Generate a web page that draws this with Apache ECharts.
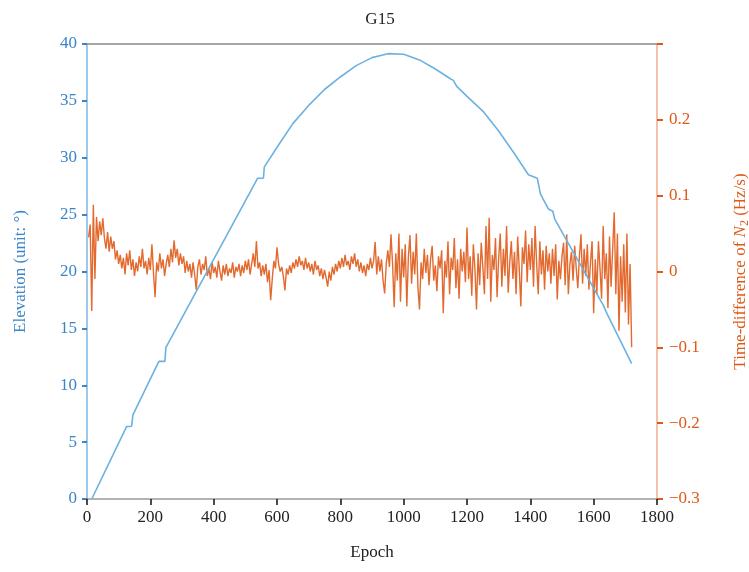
<!DOCTYPE html>
<html>
<head>
<meta charset="utf-8">
<script src="https://cdn.jsdelivr.net/npm/echarts@6/dist/echarts.min.js"></script>
<style>
  html, body { margin: 0; padding: 0; background: #fff; overflow: hidden; }
  #chart { width: 749px; height: 572px; }
</style>
</head>
<body>
<div id="chart"></div>
<script>
// elevation curve: [epoch, degrees]
const elevEpochs = [15, 125, 141, 145, 227, 246, 249, 539, 557, 560, 609, 650, 700, 750, 800, 850, 900, 950, 1000, 1050, 1100, 1150, 1157, 1167, 1200, 1250, 1300, 1350, 1394, 1422, 1432, 1457, 1471, 1477, 1631, 1642, 1720];
const elevValues = [0, 6.36, 6.4, 7.4, 12.1, 12.1, 13.3, 28.2, 28.2, 29.2, 31.3, 33.0, 34.6, 36.0, 37.1, 38.1, 38.8, 39.15, 39.1, 38.6, 37.8, 36.9, 36.8, 36.3, 35.4, 34.1, 32.35, 30.35, 28.5, 28.2, 26.8, 25.5, 25.3, 24.6, 17.0, 16.3, 11.9];

// time-difference of N2 (Hz/s), sampled every 5 epochs from epoch 5
const noiseStart = 5;
const noiseStep = 5;
const noiseValues = [
  0.045, 0.062, -0.052, 0.088, -0.010, 0.072, 0.040, 0.066, 0.048, 0.070,
  0.044, 0.030, 0.052, 0.026, 0.046, 0.030, 0.040, 0.016, 0.028, 0.010,
  0.022, 0.004, 0.018, -0.004, 0.024, 0.008, 0.028, 0.002, 0.016, -0.006,
  0.012, 0.000, 0.020, 0.006, 0.030, 0.004, 0.014, -0.004, 0.018, 0.002,
  0.036, -0.002, -0.034, 0.012, 0.000, 0.024, 0.004, 0.016, -0.006, 0.010,
  0.022, 0.006, 0.030, 0.012, 0.041, 0.018, 0.030, 0.008, 0.024, 0.010,
  0.020, -0.002, 0.014, 0.000, 0.010, -0.008, 0.012, -0.004, -0.024, 0.006,
  0.016, -0.004, 0.010, 0.002, 0.020, -0.006, 0.004, -0.010, 0.012, -0.002,
  0.006, -0.008, 0.014, 0.000, -0.012, 0.008, -0.004, 0.010, -0.006, 0.004,
  -0.002, 0.012, -0.008, 0.006, 0.000, 0.010, -0.006, 0.008, -0.002, 0.014,
  0.002, 0.016, -0.004, 0.010, 0.024, 0.006, 0.040, 0.004, 0.012, -0.006,
  0.008, -0.004, 0.010, -0.014, 0.002, -0.038, -0.010, 0.014, 0.004, 0.032,
  0.010, 0.000, 0.006, -0.006, -0.025, 0.004, -0.004, 0.008, -0.002, 0.012,
  0.004, 0.016, 0.006, 0.020, 0.008, 0.014, 0.002, 0.018, 0.004, 0.012,
  0.000, 0.010, -0.004, 0.014, 0.002, 0.008, -0.006, 0.004, -0.010, 0.002,
  -0.008, -0.020, 0.000, -0.012, 0.006, -0.004, 0.010, 0.000, 0.014, 0.004,
  0.018, 0.006, 0.022, 0.008, 0.014, 0.002, 0.020, 0.010, 0.024, 0.006,
  0.016, 0.000, 0.012, -0.002, 0.008, -0.006, 0.010, 0.002, 0.018, 0.004,
  0.014, 0.039, -0.004, 0.020, 0.000, 0.016, -0.012, -0.029, 0.010, 0.028,
  0.006, 0.049, 0.010, -0.047, 0.024, -0.012, 0.050, -0.040, 0.030, -0.008,
  0.036, -0.046, 0.020, 0.048, -0.016, 0.026, -0.004, 0.050, -0.020, -0.050,
  0.012, -0.010, 0.030, -0.002, 0.022, -0.018, 0.016, 0.034, -0.012, 0.008,
  -0.026, 0.020, 0.004, 0.028, -0.055, 0.014, -0.008, 0.040, -0.030, 0.018,
  0.002, 0.044, -0.022, 0.016, -0.036, 0.030, 0.000, 0.026, -0.014, 0.058,
  -0.010, 0.020, -0.032, 0.036, 0.004, -0.050, 0.024, -0.018, 0.038, 0.006,
  -0.030, 0.060, -0.010, 0.071, -0.040, 0.022, 0.002, 0.044, -0.034, 0.018,
  0.050, -0.020, 0.030, -0.006, 0.060, -0.028, 0.012, 0.040, -0.010, 0.026,
  -0.030, 0.046, 0.004, -0.046, 0.032, 0.010, 0.054, -0.014, 0.036, 0.002,
  0.044, -0.020, 0.060, 0.010, -0.030, 0.040, -0.004, 0.028, -0.024, 0.034,
  0.000, 0.024, -0.016, 0.030, -0.006, 0.036, -0.037, 0.014, -0.010, 0.020,
  0.038, -0.018, 0.049, -0.030, 0.010, 0.026, -0.012, 0.034, 0.004, -0.022,
  0.020, 0.049, -0.016, 0.030, -0.006, 0.036, -0.024, 0.012, 0.040, -0.055,
  0.016, -0.030, 0.040, 0.004, -0.036, 0.060, -0.010, 0.024, -0.048, 0.046,
  -0.020, 0.030, 0.078, -0.030, 0.050, -0.078, 0.020, -0.040, 0.036, -0.054,
  0.050, -0.070, 0.010, -0.100
];

const xTicks = { min: 0, max: 1800, interval: 200 };
const leftTicks = { min: 0, max: 40, interval: 5 };
const rightTicks = { min: -0.3, max: 0.3, interval: 0.1 };

const elevData = elevEpochs.map((e, i) => [e, elevValues[i]]);
const noiseData = noiseValues.map((v, i) => [noiseStart + i * noiseStep, v]);

const FONT = '"Liberation Serif", "DejaVu Serif", serif';
const BLUE = '#3b84c8';
const ORANGE = '#df5a18';

let myChart = echarts.init(document.getElementById('chart'));
myChart.setOption({
  animation: false,
  textStyle: { fontFamily: FONT },
  title: {
    text: 'G15',
    left: 375,
    textAlign: 'center',
    top: 6,
    textStyle: { fontFamily: FONT, fontSize: 17, fontWeight: 'normal', color: '#222' }
  },
  grid: { left: 87, right: 92, top: 44, bottom: 73, containLabel: false, outerBoundsMode: 'none' },
  xAxis: [
    {
      type: 'value',
      min: xTicks.min, max: xTicks.max, interval: xTicks.interval,
      name: 'Epoch',
      nameLocation: 'middle',
      nameGap: 45,
      nameTextStyle: { fontFamily: FONT, fontSize: 17, color: '#222' },
      axisLine: { onZero: false, lineStyle: { color: '#9a9a9a', width: 1.5 } },
      axisTick: { show: true, length: 6, lineStyle: { color: '#111', width: 1.5 } },
      axisLabel: { fontFamily: FONT, fontSize: 17, color: '#222', margin: 10, formatter: v => String(v) },
      splitLine: { show: false }
    },
    {
      type: 'value',
      position: 'top',
      min: xTicks.min, max: xTicks.max,
      axisLine: { show: true, onZero: false, lineStyle: { color: '#8a8a8a', width: 1.5 } },
      axisTick: { show: false },
      axisLabel: { show: false },
      splitLine: { show: false }
    }
  ],
  yAxis: [
    {
      type: 'value',
      min: leftTicks.min, max: leftTicks.max, interval: leftTicks.interval,
      position: 'left',
      name: 'Elevation (unit: °)',
      nameLocation: 'middle',
      nameRotate: 90,
      nameGap: 58,
      nameTextStyle: { fontFamily: FONT, fontSize: 17, color: BLUE },
      axisLine: { show: true, onZero: false, lineStyle: { color: '#7db8e6', width: 1.5 } },
      axisTick: { show: true, inside: false, length: 5, lineStyle: { color: BLUE, width: 2 } },
      axisLabel: { fontFamily: FONT, fontSize: 17, color: BLUE, margin: 10 },
      splitLine: { show: false }
    },
    {
      type: 'value',
      min: rightTicks.min, max: rightTicks.max, interval: rightTicks.interval,
      position: 'right',
      name: '{n|Time-difference of }{i|N}{s|2}{n| (Hz/s)}',
      nameLocation: 'middle',
      nameRotate: 90,
      nameGap: 74,
      nameTextStyle: {
        fontFamily: FONT, fontSize: 17, color: ORANGE,
        rich: {
          n: { fontFamily: FONT, fontSize: 17, color: ORANGE },
          i: { fontFamily: FONT, fontSize: 17, color: ORANGE, fontStyle: 'italic' },
          s: { fontFamily: FONT, fontSize: 12, color: ORANGE, verticalAlign: 'bottom', padding: [8, 0, 0, 0] }
        }
      },
      axisLine: { show: true, onZero: false, lineStyle: { color: '#f2ad8e', width: 1.5 } },
      axisTick: { show: true, inside: false, length: 6, lineStyle: { color: ORANGE, width: 2 } },
      axisLabel: {
        fontFamily: FONT, fontSize: 17, color: ORANGE, margin: 12,
        formatter: function (v) {
          const r = Math.round(v * 10) / 10;
          if (r > 0.25) return '';
          if (r === 0) return '0';
          return (r < 0 ? '\u2212' : '') + Math.abs(r).toFixed(1);
        }
      },
      splitLine: { show: false }
    }
  ],
  series: [
    {
      name: 'Time-difference',
      type: 'line',
      xAxisIndex: 0,
      yAxisIndex: 1,
      data: noiseData,
      showSymbol: false,
      lineStyle: { color: ORANGE, width: 1.4, opacity: 0.9 },
      z: 2
    },
    {
      name: 'Elevation',
      type: 'line',
      xAxisIndex: 0,
      yAxisIndex: 0,
      data: elevData,
      showSymbol: false,
      lineStyle: { color: '#6db1e0', width: 1.6 },
      z: 3
    }
  ]
});

window.onresize = function () {
  myChart.resize();
};
</script>
</body>
</html>
